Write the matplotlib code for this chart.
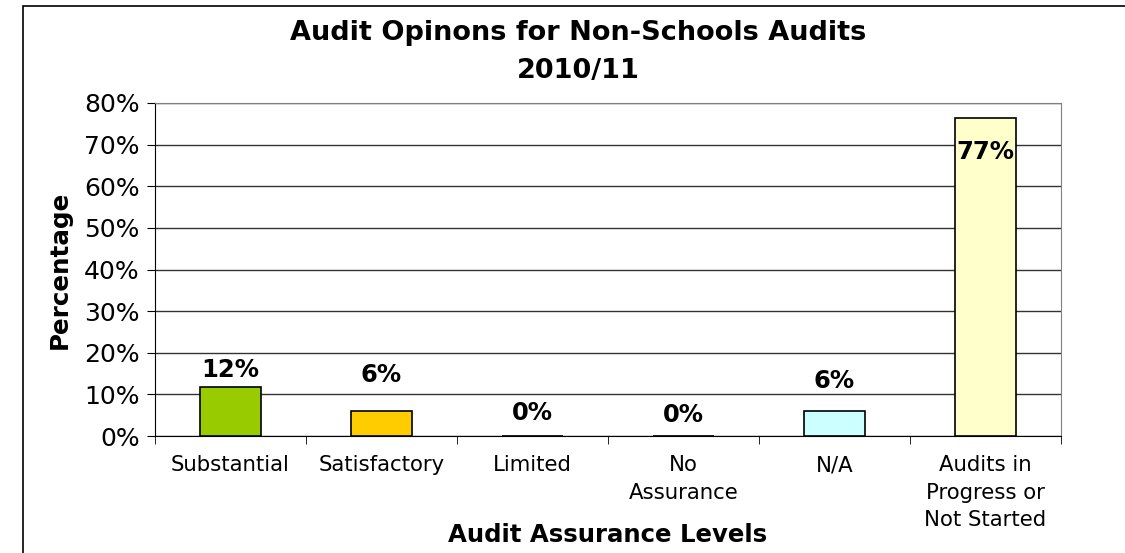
import matplotlib
matplotlib.use("Agg")
import matplotlib.pyplot as plt
from matplotlib.patches import Rectangle
from matplotlib.ticker import FuncFormatter, FixedLocator

# data
categories = ["Substantial", "Satisfactory", "Limited", "No\nAssurance", "N/A",
              "Audits in\nProgress or\nNot Started"]
values = [0.117, 0.059, 0.0, 0.0, 0.059, 0.765]
labels = ["12%", "6%", "0%", "0%", "6%", "77%"]
label_y = [0.159, 0.146, 0.055, 0.050, 0.132, 0.682]   # where the data labels sit
colors = ["#99CC00", "#FFCC00", "#FFFFFF", "#FFFFFF", "#CCFFFF", "#FFFFCC"]

plt.rcParams['font.family'] = ['DejaVu Sans']

fig = plt.figure(figsize=(11.25, 5.53), dpi=100)
ax = fig.add_axes([155 / 1125, 1 - 436 / 553, (1061 - 155) / 1125, (436 - 103) / 553])

# outer chart border
fig.patches.append(Rectangle((23 / 1125, -0.1), 1.2, 1 - 6 / 553 + 0.1,
                             transform=fig.transFigure, fill=False,
                             edgecolor="black", linewidth=1.2))

x = list(range(len(categories)))
ax.bar(x, values, width=0.4, color=colors, edgecolor="black", linewidth=1.2, zorder=3)

for i, lab in enumerate(labels):
    ax.text(i, label_y[i], lab, ha="center", va="center", fontsize=17.5,
            fontweight="bold", zorder=4)

ax.set_xlim(-0.5, len(categories) - 0.5)
ax.set_ylim(0, 0.8)
ax.set_yticks([i / 10 for i in range(9)])
ax.yaxis.set_major_formatter(FuncFormatter(lambda v, p: f"{v * 100:.0f}%"))
ax.grid(axis="y", color="#333333", linewidth=1, zorder=0)
ax.set_axisbelow(True)

ax.set_xticks(x)
ax.set_xticklabels(categories, fontsize=15.3, va="top", linespacing=1.45)
ax.tick_params(axis="x", which="major", length=0, pad=14)
ax.xaxis.set_minor_locator(FixedLocator([i - 0.5 for i in range(len(categories) + 1)]))
ax.tick_params(axis="x", which="minor", length=6, direction="out", color="black")
ax.tick_params(axis="y", labelsize=18, length=6, direction="out", pad=5)

for s in ["top", "right"]:
    ax.spines[s].set_color("#808080")
for s in ["left", "bottom"]:
    ax.spines[s].set_color("black")

ax.set_ylabel("Percentage", fontsize=17.7, fontweight="bold", va="center")
ax.yaxis.set_label_coords((60 - 155) / 906, 0.5)
ax.set_xlabel("Audit Assurance Levels", fontsize=17.6, fontweight="bold", va="center")
ax.xaxis.set_label_coords(0.5, (436 - 535) / 333)
fig.suptitle("Audit Opinons for Non-Schools Audits\n2010/11", x=578 / 1125,
             y=1 - 20 / 553, fontsize=19.5, fontweight="bold", va="top", linespacing=1.6)

fig.savefig("out.png", dpi=100)
